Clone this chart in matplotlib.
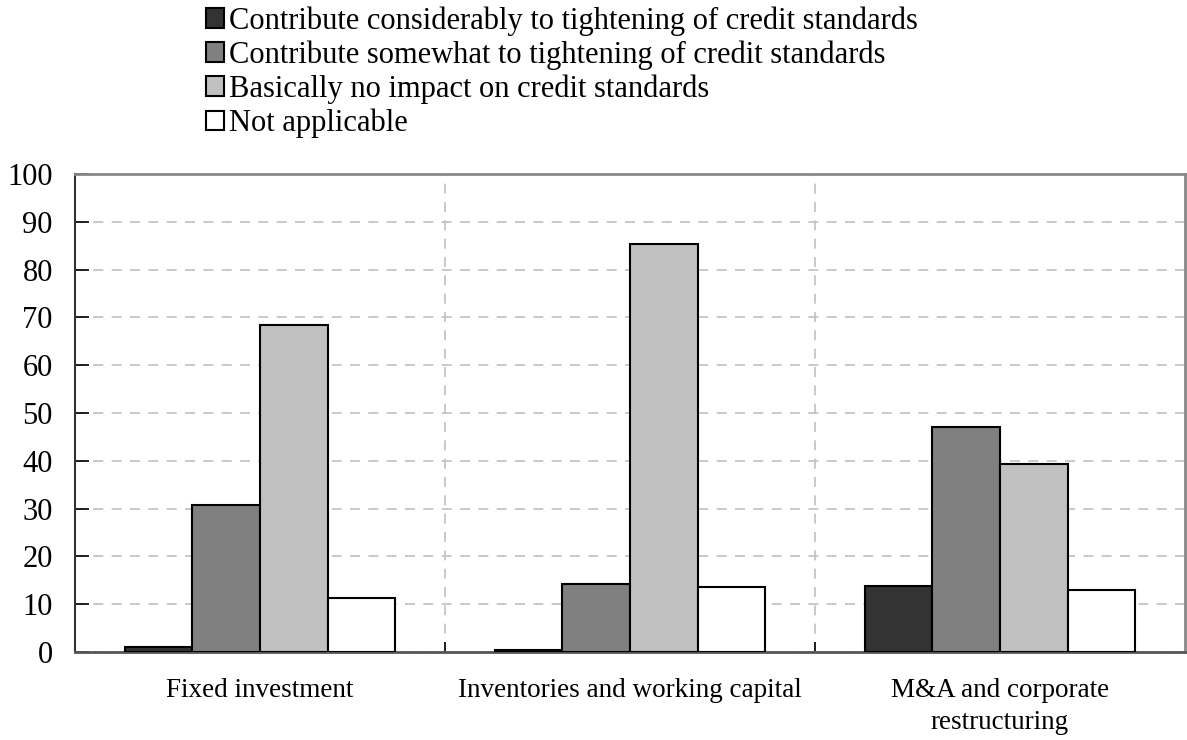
import numpy as np
import matplotlib
matplotlib.use('Agg')
import matplotlib.pyplot as plt

plt.rcParams['font.family'] = ['Liberation Serif', 'DejaVu Serif']

categories = ['Fixed investment', 'Inventories and working capital',
              'M&A and corporate\nrestructuring']
series_names = ['Contribute considerably to tightening of credit standards',
                'Contribute somewhat to tightening of credit standards',
                'Basically no impact on credit standards',
                'Not applicable']
considerably = [1.0, 0.4, 13.8]
somewhat = [30.7, 14.2, 47.0]
no_impact = [68.4, 85.4, 39.3]
not_applicable = [11.3, 13.6, 13.0]
colors = ['#333333', '#808080', '#c0c0c0', '#ffffff']

fig = plt.figure(figsize=(11.87, 7.4), dpi=100)
ax = fig.add_axes([0.0632, 0.119, 0.9351, 0.646])

x = np.arange(len(categories))
w = 0.1825
series = [considerably, somewhat, no_impact, not_applicable]
for i, (vals, name, c) in enumerate(zip(series, series_names, colors)):
    ax.bar(x + (i - 1.5) * w, vals, width=w, color=c, edgecolor='black',
           linewidth=1.5, label=name, zorder=3)

ax.set_xlim(-0.5, 2.5)
ax.set_ylim(0, 100)
ax.set_yticks(np.arange(0, 101, 10))
ax.set_xticks(x)
ax.set_xticklabels(categories, fontsize=19.5, linespacing=1.35)
ax.set_xticks([0.5, 1.5], minor=True)
ax.tick_params(axis='x', which='major', length=0, pad=19)
ax.tick_params(axis='x', which='minor', direction='in', length=7, width=1.2)
ax.tick_params(axis='y', direction='in', length=10, width=1.2, labelsize=22, pad=16)

# dashed grid, horizontal at 10s and vertical between groups
ax.grid(axis='y', which='major', ls=(0, (6, 5)), color='#c0c0c0', lw=1.2, zorder=0)
ax.grid(axis='x', which='minor', ls=(0, (6, 5)), color='#c0c0c0', lw=1.2, zorder=0)

for side in ['top', 'right']:
    ax.spines[side].set_color('#888888')
    ax.spines[side].set_linewidth(2)
ax.spines['left'].set_color('#333333')
ax.spines['left'].set_linewidth(1.5)
ax.spines['bottom'].set_color('#555555')
ax.spines['bottom'].set_linewidth(2)

fig.legend(loc='upper left', bbox_to_anchor=(0.163, 1.008), frameon=False,
           fontsize=22, handlelength=0.6, handleheight=0.6,
           handletextpad=0.15, labelspacing=0.15, borderaxespad=0.0)

fig.savefig('out.png', dpi=100)
